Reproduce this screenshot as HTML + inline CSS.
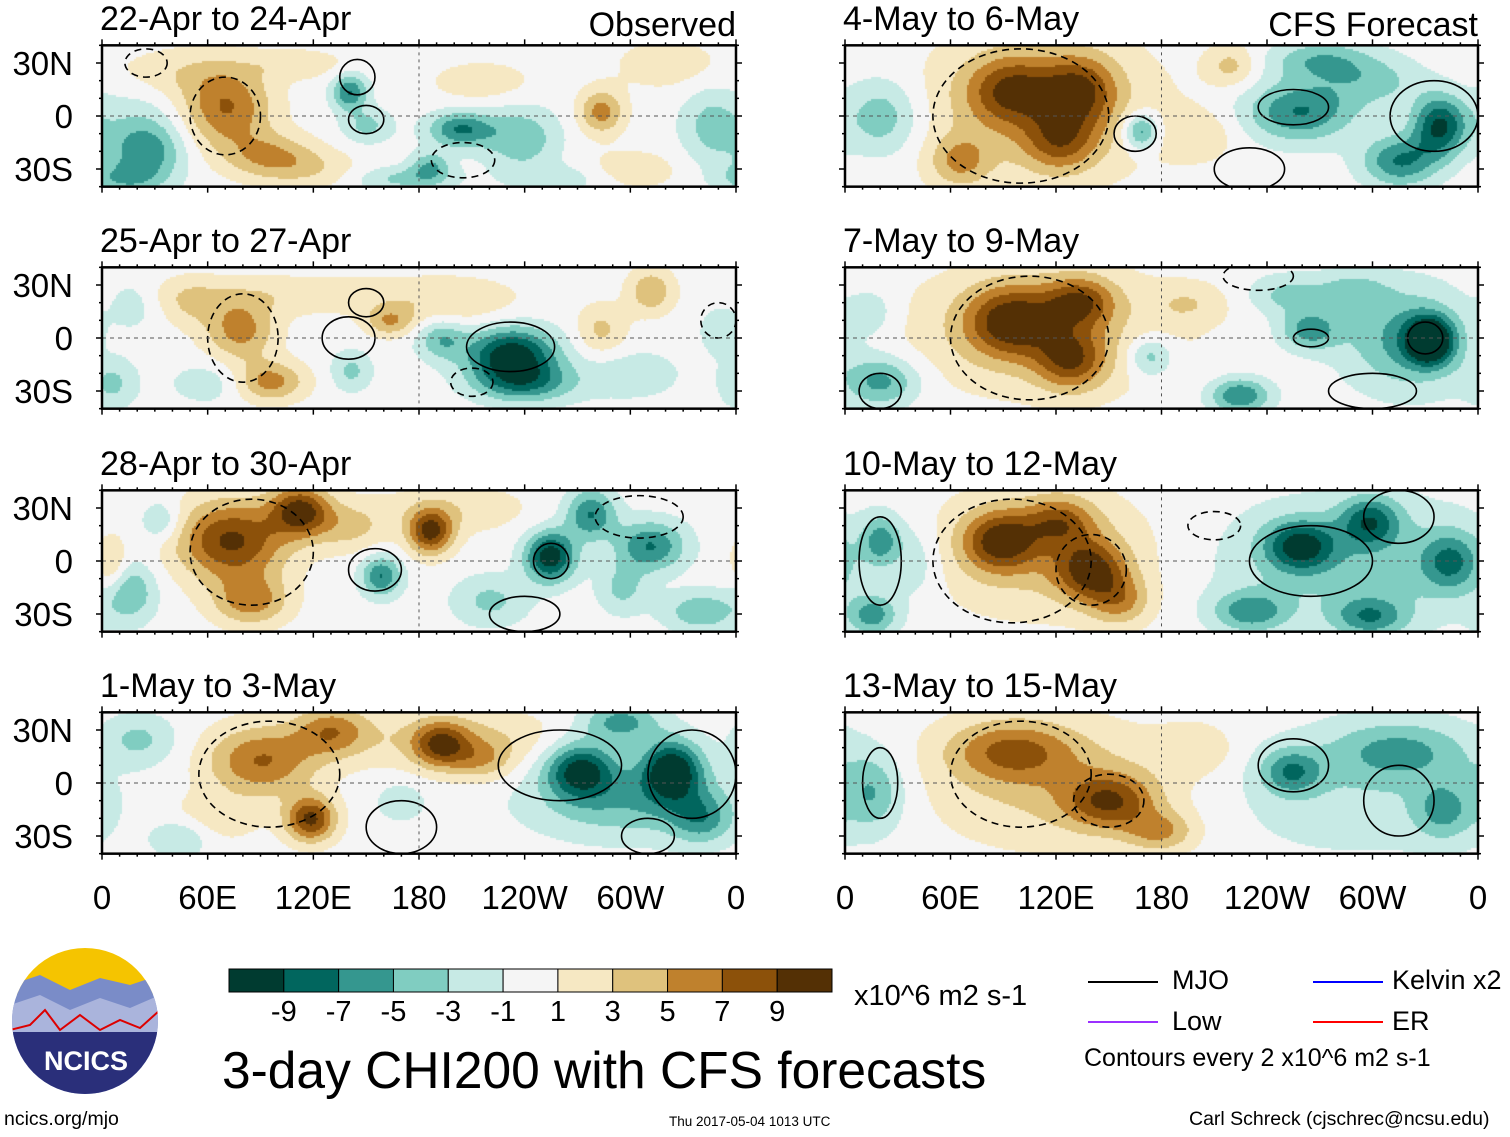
<!DOCTYPE html>
<html><head><meta charset="utf-8">
<style>
body{margin:0;background:#fff;width:1510px;height:1137px;overflow:hidden;position:relative;font-family:"Liberation Sans",sans-serif;}
.t{position:absolute;white-space:nowrap;color:#000;line-height:1;}
canvas,svg{position:absolute;left:0;top:0;}
</style></head><body>
<canvas id="cv" width="1510" height="1137"></canvas>
<svg id="ov" width="1510" height="1137"></svg>

<div class="t" style="left:100px;top:2px;font-size:34px">22-Apr to 24-Apr</div>
<div class="t" style="left:100px;top:224px;font-size:34px">25-Apr to 27-Apr</div>
<div class="t" style="left:100px;top:447px;font-size:34px">28-Apr to 30-Apr</div>
<div class="t" style="left:100px;top:669px;font-size:34px">1-May to 3-May</div>
<div class="t" style="left:843px;top:2px;font-size:34px">4-May to 6-May</div>
<div class="t" style="left:843px;top:224px;font-size:34px">7-May to 9-May</div>
<div class="t" style="left:843px;top:447px;font-size:34px">10-May to 12-May</div>
<div class="t" style="left:843px;top:669px;font-size:34px">13-May to 15-May</div>
<div class="t" style="right:774px;top:8px;font-size:34px">Observed</div>
<div class="t" style="right:32px;top:8px;font-size:34px">CFS Forecast</div>

<div class="t" style="left:854px;top:982px;font-size:29px">x10^6 m2 s-1</div>
<div class="t" style="left:222px;top:1045px;font-size:51.5px">3-day CHI200 with CFS forecasts</div>
<div class="t" style="left:1172px;top:967px;font-size:27px">MJO</div>
<div class="t" style="left:1172px;top:1008px;font-size:27px">Low</div>
<div class="t" style="left:1392px;top:967px;font-size:27px">Kelvin x2</div>
<div class="t" style="left:1392px;top:1008px;font-size:27px">ER</div>
<div class="t" style="left:1084px;top:1046px;font-size:25px">Contours every 2 x10^6 m2 s-1</div>
<div class="t" style="left:4px;top:1110px;font-size:19.5px">ncics.org/mjo</div>
<div class="t" style="left:669px;top:1115px;font-size:13.5px">Thu 2017-05-04 1013 UTC</div>
<div class="t" style="left:1189px;top:1110px;font-size:19.5px">Carl Schreck (cjschrec@ncsu.edu)</div>

<script>
const levels=[-9,-7,-5,-3,-1,1,3,5,7,9];
const colors=["#003b30","#01665e","#35978f","#80cdc1","#c7eae5","#f5f5f5","#f6e8c3","#dfc27d","#bf812d","#8c510a","#543005"];
const cbLabels=["-9","-7","-5","-3","-1","1","3","5","7","9"];
const lonTicks=["0","60E","120E","180","120W","60W","0"];
const latTicks=["30N","0","30S"];
// blobs: [lon, lat, amplitude, sigmaLon, sigmaLat]
const blobsA=[[70,5,6,18,16],[95,-22,4,18,9],[40,25,2,25,10],[140,14,-6,7,7],[150,-5,-3,10,7],[25,-20,-4,14,12],[10,-35,-3,15,6],[20,-10,-2,20,20],[203,-7,-6,13,7],[186,-28,-4,8,6],[237,-12,-4,15,12],[283,3,5,9,9],[215,20,2,20,8],[345,-5,-3,12,15],[300,-30,2,20,8],[110,30,2,20,6],[320,30,2,20,10],[170,-35,-3,20,5],[260,-35,-2,20,6],[120,-30,2,20,8]];
const blobsB=[[78,5,5,14,12],[95,-24,5,14,8],[110,25,2,60,8],[163,10,4,10,6],[232,-9,-9,18,11],[240,-25,-5,20,8],[192,0,-4,10,8],[311,27,4,9,9],[283,5,3,10,10],[16,20,-2,10,10],[5,-25,-3,10,10],[50,20,2,12,10],[350,5,-2,8,10],[141,-18,-3,8,8],[200,20,2,25,10],[300,-20,-2,20,10],[60,-25,-2,15,8]];
const blobsC=[[73,12,8,22,16],[112,29,8,12,10],[84,-22,5,15,10],[186,17,8,9,9],[200,30,2,30,10],[254,3,-9,10,10],[277,27,-6,10,10],[311,9,-6,14,10],[158,-8,-6,8,8],[220,-22,-3,15,10],[16,-17,-4,10,12],[340,-28,-4,15,8],[33,23,-3,8,8],[5,0,3,6,10],[295,-15,-3,10,10],[140,20,3,15,10]];
const blobsD=[[90,13,6,22,14],[118,-20,8,10,9],[130,30,5,15,10],[192,22,6,11,9],[200,25,3,40,12],[215,13,3,12,8],[271,8,-8,14,11],[323,8,-9,12,12],[300,-10,-4,40,15],[294,35,-5,15,8],[20,25,-3,15,10],[44,-30,-3,12,8],[169,-10,-2,10,8],[340,-20,-4,12,10],[60,-20,2,20,10]];
const blobsE=[[94,15,6,18,14],[133,15,6,15,14],[122,-14,5,15,12],[65,-25,4,12,10],[110,5,3,50,30],[168,-8,-6,7,7],[258,3,-6,22,12],[338,-5,-8,11,12],[315,-25,-6,15,10],[270,32,-4,20,8],[20,0,-4,15,15],[219,29,3,10,8],[200,-10,2,15,10],[300,20,-3,20,10]];
const blobsF=[[94,10,7,18,14],[133,21,6,14,10],[128,-12,6,14,12],[110,5,3,55,25],[332,-1,-10,9,9],[320,0,-5,25,20],[264,5,-5,12,8],[173,-10,-4,9,8],[20,-24,-5,15,10],[224,-32,-6,12,7],[287,27,-3,15,8],[250,25,-3,15,8],[15,15,-2,10,10],[195,20,2,15,8]];
const blobsG=[[88,12,7,15,12],[139,-5,7,14,12],[122,23,5,14,10],[156,-22,4,12,10],[110,5,3,50,25],[258,9,-7,14,10],[298,23,-6,12,10],[344,0,-5,12,12],[298,-31,-5,15,8],[230,-28,-5,15,8],[20,12,-5,8,10],[15,-30,-5,10,8],[290,0,-3,60,25],[40,0,-2,10,15]];
const blobsH=[[94,19,5,25,12],[150,-10,6,18,11],[179,-27,4,14,8],[120,0,3,55,25],[253,7,-5,12,9],[315,19,-4,28,12],[340,-15,-4,12,12],[15,-5,-4,12,15],[290,-5,-2,60,25],[200,20,2,15,10]];
// contours: [lon, lat, radiusLon, radiusLat, dashed(1)/solid(0)]
const contA=[[145,22,10,10,0],[150,-2,10,8,0],[70,0,20,22,1],[25,30,12,8,1],[205,-25,18,10,1]];
const contB=[[150,20,10,8,0],[140,0,15,12,0],[232,-5,25,14,0],[210,-25,12,8,1],[80,0,20,25,1],[350,10,10,10,1]];
const contC=[[85,5,35,30,1],[255,0,10,10,0],[155,-5,15,12,0],[305,25,25,12,1],[240,-30,20,10,0]];
const contD=[[95,5,40,30,1],[260,10,35,20,0],[335,5,25,25,0],[170,-25,20,15,0],[310,-30,15,10,0]];
const contE=[[100,0,50,38,1],[165,-10,12,10,0],[255,5,20,10,0],[335,0,25,20,0],[230,-30,20,12,0]];
const contF=[[105,0,45,35,1],[330,0,10,9,0],[265,0,10,5,0],[20,-30,12,10,0],[300,-30,25,10,0],[235,35,20,8,1]];
const contG=[[95,0,45,35,1],[140,-5,20,20,1],[265,0,35,20,0],[315,25,20,15,0],[20,0,12,25,0],[210,20,15,8,1]];
const contH=[[100,5,40,30,1],[150,-10,20,15,1],[255,10,20,15,0],[20,0,10,20,0],[315,-10,20,20,0]];
const ampScale=1.18;

const panels=[
 {x0:102,x1:736,eq:116,blobs:blobsA,cont:contA},
 {x0:102,x1:736,eq:338,blobs:blobsB,cont:contB},
 {x0:102,x1:736,eq:561,blobs:blobsC,cont:contC},
 {x0:102,x1:736,eq:783,blobs:blobsD,cont:contD},
 {x0:845,x1:1478,eq:116,blobs:blobsE,cont:contE},
 {x0:845,x1:1478,eq:338,blobs:blobsF,cont:contF},
 {x0:845,x1:1478,eq:561,blobs:blobsG,cont:contG},
 {x0:845,x1:1478,eq:783,blobs:blobsH,cont:contH}];
const pxPerLat=53/30;
const ctx=document.getElementById('cv').getContext('2d');
const svg=document.getElementById('ov');
const NS="http://www.w3.org/2000/svg";
function colorFor(v){let i=0;while(i<levels.length&&v>=levels[i])i++;return colors[i];}
function field(blobs,lon,lat){let s=0;for(const b of blobs){let d=lon-b[0];if(d>180)d-=360;if(d<-180)d+=360;const sx=b[3]||15,sy=b[4]||10;s+=b[2]*Math.exp(-0.5*((d/sx)**2+((lat-b[1])/sy)**2));}return s*ampScale;}
function mk(tag,attrs,parent){const e=document.createElementNS(NS,tag);for(const k in attrs)e.setAttribute(k,attrs[k]);(parent||svg).appendChild(e);return e;}
const defs=mk('defs',{});

panels.forEach((p,pi)=>{
  const w=p.x1-p.x0, xs=w/360;
  const top=p.eq-40*pxPerLat, bot=p.eq+40*pxPerLat;
  const lonX=l=>p.x0+l*xs, latY=la=>p.eq-la*pxPerLat;
  for(let y=Math.round(top);y<bot;y+=2){
    for(let x=p.x0;x<p.x1;x+=2){
      const lon=(x-p.x0)/xs, lat=(p.eq-y)/pxPerLat;
      ctx.fillStyle=colorFor(field(p.blobs,lon,lat));
      ctx.fillRect(x,y,2,2);
    }
  }
  const cp=mk('clipPath',{id:'cp'+pi},defs);
  mk('rect',{x:p.x0,y:top,width:w,height:bot-top},cp);
  const g=mk('g',{});
  
  
  const cg=mk('g',{'clip-path':'url(#cp'+pi+')'},g);
  p.cont.forEach(c=>{
    const e=mk('ellipse',{cx:lonX(c[0]),cy:latY(c[1]),rx:c[2]*xs,ry:c[3]*pxPerLat,fill:'none',stroke:'#000','stroke-width':1.6,'stroke-dasharray':c[4]?'7,5':'none'},cg);
    
    
  });
  const eqL=mk('line',{x1:p.x0,x2:p.x1,y1:p.eq,y2:p.eq,stroke:'#555','stroke-dasharray':'4,4','stroke-width':1},g);
  
  
  const dl=mk('line',{x1:lonX(180),x2:lonX(180),y1:top,y2:bot,stroke:'#555','stroke-dasharray':'3,4','stroke-width':1},g);
  
  
  const fr=mk('rect',{x:p.x0,y:top,width:w,height:bot-top,fill:'none',stroke:'#000','stroke-width':2.5},g);
  
  
  for(let l=0;l<=360;l+=10){const big=l%60==0;
    mk('line',{x1:lonX(l),x2:lonX(l),y1:top,y2:top-(big?6:3),stroke:'#000','stroke-width':1.5},g);
    mk('line',{x1:lonX(l),x2:lonX(l),y1:bot,y2:bot+(big?6:3),stroke:'#000','stroke-width':1.5},g);}
  for(let la=-40;la<=40;la+=10){const big=la%30==0;
    mk('line',{x1:p.x0,x2:p.x0-(big?6:3),y1:latY(la),y2:latY(la),stroke:'#000','stroke-width':1.5},g);
    mk('line',{x1:p.x1,x2:p.x1+(big?6:3),y1:latY(la),y2:latY(la),stroke:'#000','stroke-width':1.5},g);}
  if(p.x0<500){
    latTicks.forEach((t,i)=>{const la=30-30*i;
      const tx=mk('text',{x:73,y:latY(la)+12,'text-anchor':'end','font-size':33,'font-family':'Liberation Sans, sans-serif'},g);
      tx.textContent=t;
      
      });
  }
  if(pi==3||pi==7){
    lonTicks.forEach((t,i)=>{
      const tx=mk('text',{x:lonX(60*i),y:909,'text-anchor':'middle','font-size':33,'font-family':'Liberation Sans, sans-serif'},g);
      tx.textContent=t;
      
      });
  }
});
const cbx=229,cbw=603/11;
colors.forEach((c,i)=>{
  const r=mk('rect',{x:cbx+i*cbw,y:969,width:cbw,height:23,fill:c,stroke:'#000','stroke-width':1});
  
  
});
cbLabels.forEach((t,i)=>{
  const tx=mk('text',{x:cbx+(i+1)*cbw,y:1021,'text-anchor':'middle','font-size':29,'font-family':'Liberation Sans, sans-serif'});
  tx.textContent=t;
  
  
});
[[1088,982,'#000'],[1088,1022,'#9b30ff'],[1313,982,'#0000ff'],[1313,1022,'#ff0000']].forEach(a=>{
  const l=mk('line',{x1:a[0],x2:a[0]+70,y1:a[1],y2:a[1],stroke:a[2],'stroke-width':2});
  
  
});
const lg=mk('g',{});


const lcp=mk('clipPath',{id:'lc'},defs);
mk('circle',{cx:85,cy:1021,r:73},lcp);
const inner=mk('g',{'clip-path':'url(#lc)'},lg);
mk('rect',{x:10,y:945,width:150,height:50,fill:'#f5c400'},inner);
mk('path',{d:'M10 985 L40 975 L70 990 L100 978 L130 985 L160 975 L160 1100 L10 1100Z',fill:'#7a8cc8'},inner);
mk('path',{d:'M10 1005 L40 995 L70 1010 L100 998 L130 1008 L160 995 L160 1100 L10 1100Z',fill:'#aab4dc'},inner);
mk('path',{d:'M10 1030 L30 1025 L45 1010 L60 1030 L80 1015 L100 1030 L120 1020 L140 1028 L160 1010',fill:'none',stroke:'#d00','stroke-width':2},inner);
mk('rect',{x:10,y:1032,width:150,height:70,fill:'#2a2f7a'},inner);
const lt=mk('text',{x:86,y:1070,'text-anchor':'middle','font-size':27,'font-weight':'bold',fill:'#fff','font-family':'Liberation Sans, sans-serif'},lg);
lt.textContent='NCICS';
</script>
</body></html>
